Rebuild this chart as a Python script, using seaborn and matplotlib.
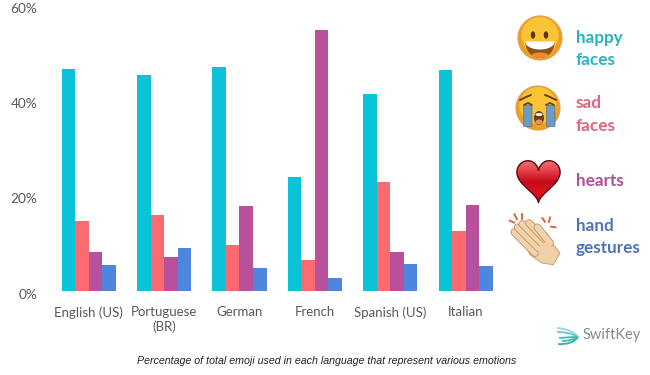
import matplotlib
matplotlib.use('Agg')
import matplotlib.pyplot as plt
import matplotlib.patches as mp
import matplotlib.transforms as mt
from matplotlib.colors import LinearSegmentedColormap
from matplotlib.path import Path
import numpy as np
import pandas as pd
import seaborn as sns

languages = ['English (US)', 'Portuguese\n(BR)', 'German', 'French', 'Spanish (US)', 'Italian']
emotions = ['happy faces', 'sad faces', 'hearts', 'hand gestures']
happy = [46.5, 45.3, 47.0, 24.0, 41.4, 46.3]
sad = [14.7, 15.9, 9.6, 6.5, 22.9, 12.5]
hearts = [8.1, 7.1, 17.8, 54.8, 8.2, 18.0]
hands = [5.4, 9.0, 4.9, 2.7, 5.6, 5.2]
bar_colors = ['#0BC3D6', '#FA6A6E', '#B9509C', '#4E86DF']
yticks = [0, 20, 40, 60]

df = pd.DataFrame({'language': languages * 4,
                   'emotion': np.repeat(emotions, 6),
                   'value': happy + sad + hearts + hands})

sns.set_theme(style='white')
plt.rcParams['font.family'] = ['Lato', 'DejaVu Sans']

W, H = 650, 375
fig = plt.figure(figsize=(W / 100, H / 100), dpi=100, facecolor='white')
ax = fig.add_axes([51 / W, 1 - 291 / H, 452.4 / W, 286 / H])

sns.barplot(data=df, x='language', y='value', hue='emotion', palette=bar_colors,
            width=0.72, gap=0, saturation=1, linewidth=0, legend=False, ax=ax)
ax.set_xlim(-0.5, 5.5)
ax.set_ylim(0, 60)
ax.set_yticks(yticks)
ax.set_yticklabels([f'{v}%' for v in yticks], color='#595959', fontsize=9.8)
ax.tick_params(axis='both', length=0)
ax.tick_params(axis='y', pad=10)
ax.tick_params(axis='x', pad=11, labelsize=9.5, labelcolor='#595959')
ax.set_xlabel('')
ax.set_ylabel('')
sns.despine(ax=ax, left=True, bottom=True)

# y labels sit a touch lower than the bars' scale
shift = mt.ScaledTranslation(0, -2 / 72, fig.dpi_scale_trans)
for lab in ax.get_yticklabels():
    lab.set_transform(lab.get_transform() + shift)

# overlay in pixel coordinates for the key, emoji and logo
ov = fig.add_axes([0, 0, 1, 1], zorder=3)
ov.patch.set_alpha(0)

# heart first, imshow would reset the limits
t = np.linspace(0, 2 * np.pi, 200)
hx = 538.5 + 1.35 * 16 * np.sin(t) ** 3
hy = 178 - 1.45 * (13 * np.cos(t) - 5 * np.cos(2 * t) - 2 * np.cos(3 * t) - np.cos(4 * t))
heart = mp.Polygon(np.c_[hx, hy], fc='none', ec='#5A0A10', lw=1, zorder=3)
ov.add_patch(heart)
heart_cmap = LinearSegmentedColormap.from_list('heart', ['#EE7A80', '#E8454E', '#C40A18', '#E0101F', '#C80C1A'])
grad = ov.imshow(np.linspace(0, 1, 64)[:, None], extent=(515, 562, 205, 158), cmap=heart_cmap,
                 aspect='auto', zorder=2)
grad.set_clip_path(heart)

ov.set_xlim(0, W)
ov.set_ylim(H, 0)
ov.axis('off')

key_labels = [('happy', 38, '#25B4C2'), ('faces', 60, '#25B4C2'),
              ('sad', 103, '#E2647C'), ('faces', 126, '#E2647C'),
              ('hearts', 181, '#AE4F98'), ('hand', 226, '#4F72B8'),
              ('gestures', 248, '#4F72B8')]
for txt, y, c in key_labels:
    ov.text(576, y, txt, color=c, fontsize=12.3, fontweight='bold', va='center', ha='left')


def face(cx, cy, r):
    ov.add_patch(mp.Circle((cx, cy), r, fc='#EFA020', ec='#D9A050', lw=0.8))
    ov.add_patch(mp.Circle((cx, cy - 2.5), r - 3.5, fc='#FBC437', ec='none'))


# happy face
face(540, 38, 22)
ov.add_patch(mp.Ellipse((533, 35), 4.5, 7.5, fc='#5A3A12', ec='none'))
ov.add_patch(mp.Ellipse((546, 35), 4.5, 7.5, fc='#5A3A12', ec='none'))
a = np.linspace(0, np.pi, 60)
mouth = mp.Polygon(np.c_[540 + 14.5 * np.cos(a), 42 + 16 * np.sin(a)], fc='#8A5518', ec='none')
ov.add_patch(mouth)
band = mp.Polygon(np.r_[np.c_[540 + 14.5 * np.cos(a), 42 + 7.5 * np.sin(a)], [[525.5, 41.5], [554.5, 41.5]]],
                  fc='white', ec='none')
ov.add_patch(band)
tongue = mp.Ellipse((540, 56), 18, 7, fc='#F08A3A', ec='none')
ov.add_patch(tongue)
tongue.set_clip_path(mouth)

# crying face
face(538, 108, 22)
ov.add_patch(mp.FancyBboxPatch((524, 106), 7.5, 20, boxstyle='round,pad=0.5', fc='#6E9BBF', ec='#5B7590', lw=0.5))
ov.add_patch(mp.FancyBboxPatch((547, 106), 7.5, 20, boxstyle='round,pad=0.5', fc='#6E9BBF', ec='#5B7590', lw=0.5))
ov.add_patch(mp.Ellipse((539, 118), 10, 14, fc='#6B3F16', ec='none'))
ov.add_patch(mp.Ellipse((539, 114.5), 7, 3, fc='white', ec='none'))
ov.add_patch(mp.Ellipse((539, 122), 7, 5, fc='#F0905A', ec='none'))
ov.plot([520, 526, 531], [100, 97, 95], color='#6B3F16', lw=1.4)
ov.plot([545, 550, 556], [95, 97, 100], color='#6B3F16', lw=1.4)
ov.plot([524, 528, 532], [105, 103, 105], color='#6B3F16', lw=1.3)
ov.plot([546, 550, 554], [105, 103, 105], color='#6B3F16', lw=1.3)


# clapping hands, drawn in the zoomed crop's coordinates
def zx(v):
    return 505 + v / 3


def zy(v):
    return 208 + v / 3


palm = [(50, 90), (90, 65), (125, 75), (145, 110), (165, 135), (145, 170), (110, 165), (75, 140)]
ov.add_patch(mp.Polygon([(zx(x), zy(y)) for x, y in palm], fc='#F0D0A8', ec='#C9A078', lw=0.7,
                        joinstyle='round', zorder=2))
fingers = [(28, 72, 90, 135), (38, 58, 100, 120), (52, 48, 115, 110), (72, 45, 125, 100), (97, 58, 135, 105)]
for x0, y0, x1, y1 in fingers:
    ov.plot([zx(x0), zx(x1)], [zy(y0), zy(y1)], color='#C08E62', lw=5.6, solid_capstyle='round', zorder=2)
    ov.plot([zx(x0), zx(x1)], [zy(y0), zy(y1)], color='#F2D3AC', lw=4.4, solid_capstyle='round', zorder=2)
ov.add_patch(mp.Ellipse((zx(120), zy(125)), 13, 15, angle=40, fc='#F0D0A8', ec='none', zorder=2))
sparks = [(14, 38, 28, 44), (28, 18, 36, 34), (50, 18, 50, 34), (112, 30, 120, 42), (135, 28, 132, 42), (152, 58, 138, 56)]
for x0, y0, x1, y1 in sparks:
    ov.plot([zx(x0), zx(x1)], [zy(y0), zy(y1)], color='#DD6A48', lw=1.5, zorder=2)

# SwiftKey logo
curves = [((557, 328), (572, 329), (578, 337), '#8FD8DE'),
          ((557, 332), (570, 332), (578, 337), '#62C8CC'),
          ((559, 338), (570, 337), (578, 337), '#3FBDB6'),
          ((558, 344), (572, 345), (578, 337), '#2CB29C'),
          ((562, 341), (571, 341), (578, 337), '#3EBDA8')]
for p0, p1, p2, c in curves:
    ov.add_patch(mp.PathPatch(Path([p0, p1, p2], [Path.MOVETO, Path.CURVE3, Path.CURVE3]),
                              fc='none', ec=c, lw=1.3))
ov.text(583, 335, 'SwiftKey', color='#7F8B8F', fontsize=10.5, va='center', ha='left')
ov.text(327, 361, 'Percentage of total emoji used in each language that represent various emotions',
        family=['Liberation Sans'], style='italic', fontsize=7.65, color='#222222', va='center', ha='center')

fig.savefig('out.png', dpi=100)
